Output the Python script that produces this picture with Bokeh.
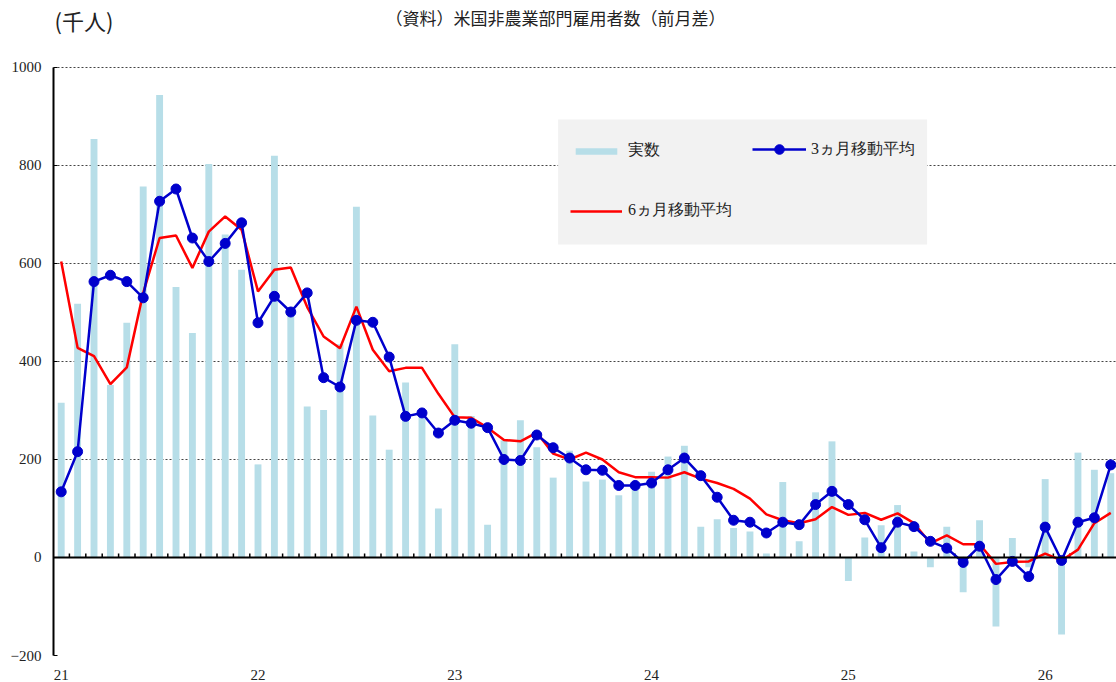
from bokeh.plotting import figure
from bokeh.models import (Range1d, FixedTicker, Legend, LegendItem, BoxAnnotation,
                          Label, Span)
from bokeh.embed import file_html
from bokeh.resources import INLINE

# ---- data (thousand persons, month-over-month change), Jan 2021 - May 2026 ----
actual = [316, 518, 854, 352, 479, 757, 944, 552, 458, 803,
          659, 587, 190, 820, 500, 308, 301, 435, 716, 290,
          220, 357, 290, 100, 435, 289, 67, 239, 280, 225,
          163, 218, 155, 159, 127, 142, 175, 206, 228, 63,
          78, 60, 53, 8, 154, 33, 133, 237, -48, 41,
          66, 107, 12, -20, 63, -71, 76, -141, 40, -20,
          160, -157, 214, 179, 172]
ma3 = [134, 216, 563, 576, 563, 530, 727, 752, 652, 604,
       641, 683, 479, 533, 501, 540, 367, 348, 484, 480,
       409, 288, 295, 254, 280, 274, 265, 200, 198, 250,
       224, 203, 179, 178, 147, 147, 152, 179, 203, 167,
       123, 76, 72, 50, 72, 67, 108, 135, 108, 77,
       20, 72, 63, 33, 19, -10, 23, -45, -8, -39,
       62, -6, 72, 81, 189]
ma6 = [604, 428, 411, 354, 388, 540, 652, 657, 591, 665,
       696, 669, 543, 587, 592, 511, 451, 427, 512, 424,
       380, 387, 387, 334, 286, 285, 265, 240, 237, 255,
       212, 200, 214, 200, 174, 164, 164, 163, 174, 161,
       152, 140, 120, 88, 76, 70, 78, 103, 87, 91,
       77, 90, 70, 29, 45, 27, 27, -13, -9, -8,
       8, -6, 16, 70, 91]
year_labels = ["21", "22", "23", "24", "25", "26"]
y_ticks = [-200, 0, 200, 400, 600, 800, 1000]

months = list(range(len(actual)))
year_ticks = [12 * k for k in range(len(year_labels))]

SERIF = "Liberation Serif"
JP = "Noto Sans CJK JP"

p = figure(width=1116, height=682, output_backend="svg", toolbar_location=None,
           x_range=Range1d(-0.47, 64.35), y_range=Range1d(-200, 1136.7),
           min_border_left=53, min_border_right=0, min_border_top=0,
           min_border_bottom=27)
p.outline_line_color = None
p.background_fill_color = "white"

# grid
p.xgrid.grid_line_color = None
p.ygrid.ticker = FixedTicker(ticks=y_ticks)
p.ygrid.grid_line_color = "#444444"
p.ygrid.grid_line_dash = "2 2"
p.ygrid.grid_line_width = 1

# y axis
ya = p.yaxis[0]
ya.ticker = FixedTicker(ticks=y_ticks)
ya.bounds = (-200, 1000)
ya.axis_line_color = "black"
ya.axis_line_width = 2
ya.major_tick_in = 4
ya.major_tick_out = 0
ya.major_tick_line_color = "black"
ya.minor_tick_line_color = None
ya.major_label_standoff = 12
ya.major_label_text_font = SERIF
ya.major_label_text_font_size = "15px"
ya.major_label_text_color = "#222222"

# x axis (year labels only)
xa = p.xaxis[0]
xa.ticker = FixedTicker(ticks=year_ticks)
xa.major_label_overrides = {t: l for t, l in zip(year_ticks, year_labels)}
xa.axis_line_color = None
xa.major_tick_line_color = None
xa.minor_tick_line_color = None
xa.major_label_standoff = 8
xa.major_label_text_font = SERIF
xa.major_label_text_font_size = "15px"
xa.major_label_text_color = "#222222"

# legend background box
p.add_layout(BoxAnnotation(left=30.3, right=52.8, bottom=639, top=894,
                           fill_color="#f2f2f2", fill_alpha=1.0, line_color=None,
                           level="underlay"))

bars = p.vbar(x=months, top=actual, bottom=0, width=0.42,
              fill_color="#b7dee8", line_color=None)

# zero line + month ticks
p.add_layout(Span(location=0, dimension="width", line_color="black", line_width=2))
bnd = [m + 0.5 for m in months[:-1]]
p.segment(x0=bnd, y0=[0] * len(bnd), x1=bnd, y1=[8] * len(bnd),
          line_color="black", line_width=1.5)

red = p.line(months, ma6, line_color="#ff0000", line_width=2.5)
blue = p.line(months, ma3, line_color="#0000cc", line_width=2.5)
dots = p.scatter(months, ma3, size=10, fill_color="#0000cc", line_color="#0000cc")

legA = Legend(items=[LegendItem(label="実数", renderers=[bars]),
                     LegendItem(label="6ヵ月移動平均", renderers=[red])],
              location=(517, 434), orientation="vertical",
              glyph_width=52, glyph_height=8, label_height=20, spacing=39,
              label_standoff=6, padding=0, margin=0,
              border_line_color=None, background_fill_alpha=0,
              label_text_font=SERIF, label_text_font_size="16px",
              label_text_color="#222222")
legB = Legend(items=[LegendItem(label="3ヵ月移動平均", renderers=[blue, dots])],
              location=(699, 494), orientation="vertical",
              glyph_width=54, glyph_height=24, label_height=20,
              label_standoff=5, padding=0, margin=0,
              border_line_color=None, background_fill_alpha=0,
              label_text_font=SERIF, label_text_font_size="16px",
              label_text_color="#222222")
p.add_layout(legA)
p.add_layout(legB)

p.add_layout(Label(x=1, y=636, x_units="screen", y_units="screen",
                   text="(千人)", text_font=JP, text_font_size="22px",
                   text_baseline="middle", text_align="left", text_color="#222222"))
p.add_layout(Label(x=502, y=638, x_units="screen", y_units="screen",
                   text="（資料）米国非農業部門雇用者数（前月差）", text_font=JP,
                   text_font_size="17px", text_baseline="middle", text_align="center",
                   text_color="#222222"))

open("out.html", "w").write(file_html(p, INLINE))
